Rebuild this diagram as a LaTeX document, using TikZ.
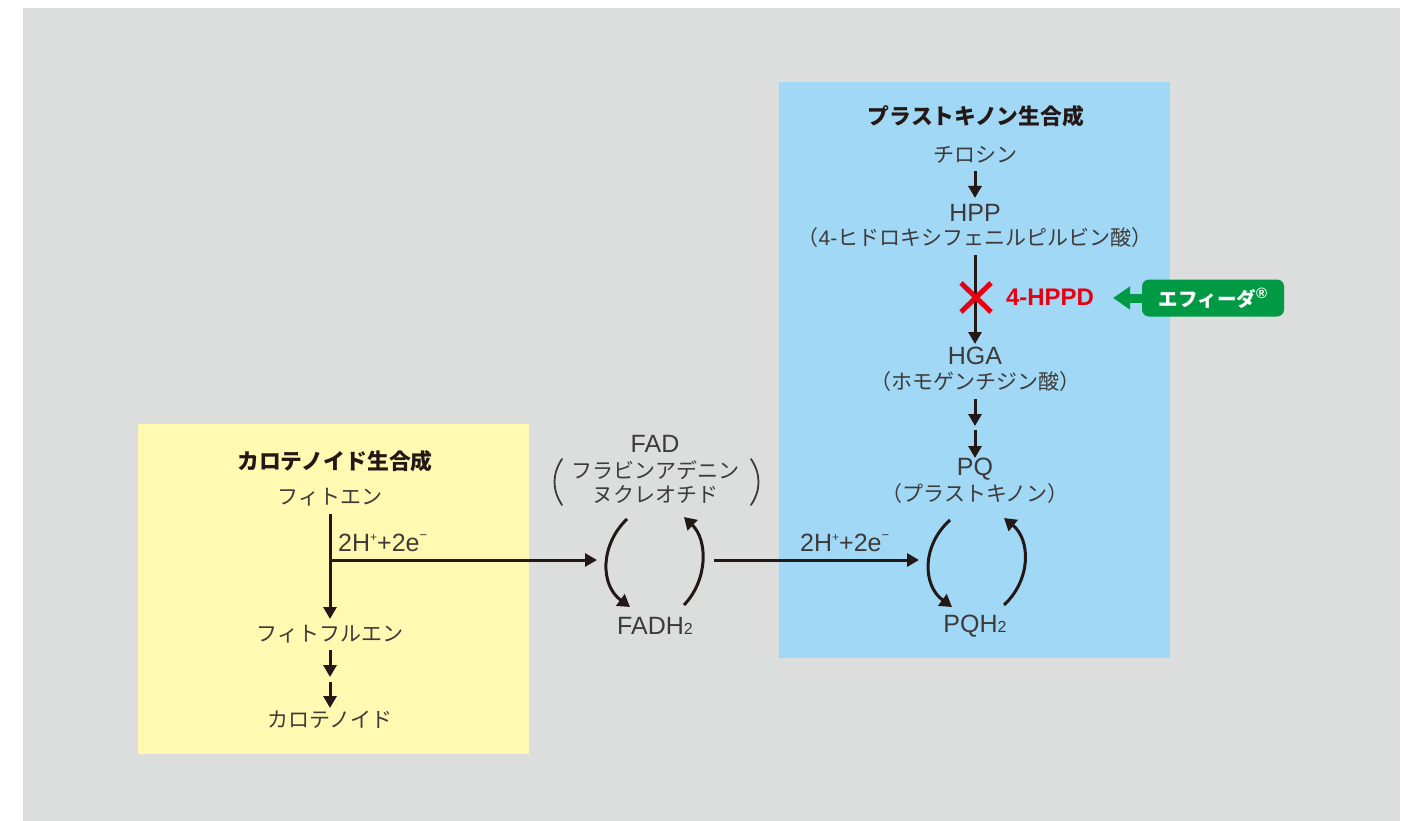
\documentclass[tikz,border=0pt]{standalone}
\usepackage{fontspec}
\setmainfont{Noto Sans CJK JP}
\newfontfamily\latf{Liberation Sans}
\usetikzlibrary{arrows.meta}
\definecolor{bg}{HTML}{DCDDDD}
\definecolor{yel}{HTML}{FFF9B1}
\definecolor{blu}{HTML}{A0D8F5}
\definecolor{tc}{HTML}{3E3A39}
\definecolor{ac}{HTML}{231815}
\definecolor{rd}{HTML}{E60012}
\definecolor{gr}{HTML}{009944}
\newcommand{\sbtwo}{{\fontsize{16}{16}\selectfont 2}}
\newcommand{\ions}{2H\raisebox{0.42em}{\fontsize{12}{12}\selectfont +}+2e\raisebox{0.48em}{\fontsize{13}{13}\selectfont −}}
\begin{document}
\begin{tikzpicture}[x=1pt,y=-1pt,
  txt/.style={font=\fontsize{21}{24}\selectfont, text=tc, inner sep=0pt},
  lat/.style={font=\latf\fontsize{25}{28}\selectfont, text=tc, inner sep=0pt},
  ttl/.style={font=\bfseries\fontsize{21.8}{24}\selectfont, text=ac, inner sep=0pt},
  arr/.style={line width=3pt, draw=ac, -{Triangle[width=13pt,length=12pt]}},
  cyc/.style={line width=3pt, draw=ac, -{Triangle[width=14pt,length=12pt]}},
  paren/.style={line width=1.8pt, draw=tc, line cap=round}]
\useasboundingbox (0,0) rectangle (1410,821);
\fill[bg] (23,8) rectangle (1400,821);
\fill[yel] (138,424) rectangle (529,754);
\fill[blu] (779,82) rectangle (1170,658);

% ---------- carotenoid ----------
\node[ttl] (ct) at (335,461) {カロテノイド生合成};
\node[txt] (phy) at (330,497) {フィトエン};
\node[txt] (phf) at (330,634) {フィトフルエン};
\node[txt] (car) at (330,720) {カロテノイド};
\coordinate (v1s) at (330,514);
\coordinate (v1e) at (330,619);
\coordinate (j1) at (330,560);
\coordinate (fadin) at (597,560);
\draw[arr] (v1s) -- (v1e);
\draw[arr] (j1) -- (fadin);
\node[lat, anchor=west] (ion1) at (338,543) {\ions};
\coordinate (c1a) at (330,650); \coordinate (c1b) at (330,677);
\coordinate (c2a) at (330,682); \coordinate (c2b) at (330,708);
\draw[arr] (c1a) -- (c1b);
\draw[arr] (c2a) -- (c2b);

% ---------- FAD ----------
\node[lat] (fad) at (655,444) {FAD};
\node[txt] (fad1) at (655,470) {フラビンアデニン};
\node[txt] (fad2) at (655,495) {ヌクレオチド};
\draw[paren] (562,459) .. controls (552,474) and (552,490) .. (562,505);
\draw[paren] (751,459) .. controls (761,474) and (761,490) .. (751,505);
\node[lat] (fadh) at (655,626) {FADH\sbtwo};
\coordinate (fl1) at (627,519); \coordinate (fl2) at (630,607);
\coordinate (fr1) at (684,605); \coordinate (fr2) at (684,517);
\draw[cyc] (fl1) .. controls (600,545) and (600,585) .. (fl2);
\draw[cyc] (fr1) .. controls (708,580) and (708,540) .. (fr2);
\coordinate (fadout) at (714,560);
\coordinate (pqin) at (919,560);
\draw[arr] (fadout) -- (pqin);
\node[lat, anchor=west] (ion2) at (800,543) {\ions};

% ---------- plastoquinone ----------
\node[ttl] (pt) at (976,116) {プラストキノン生合成};
\node[txt] (tyr) at (975,155) {チロシン};
\node[lat] (hpp) at (975,213) {HPP};
\node[txt] (hpp2) at (975,238) {（{\latf 4-}ヒドロキシフェニルピルビン酸）};
\node[lat] (hga) at (975,356) {HGA};
\node[txt] (hga2) at (975,382) {（ホモゲンチジン酸）};
\node[lat] (pq) at (975,469) {PQ};
\node[txt] (pq2) at (975,494) {（プラストキノン）};
\node[lat] (pqh) at (975,626) {PQH\sbtwo};
\coordinate (t1) at (975,171); \coordinate (t2) at (975,198);
\draw[arr] (t1) -- (t2);
\coordinate (h1) at (975,255); \coordinate (h2) at (975,344);
\draw[arr] (h1) -- (h2);
\coordinate (g1) at (975,399); \coordinate (g2) at (975,426);
\coordinate (g3) at (975,430); \coordinate (g4) at (975,458);
\draw[arr] (g1) -- (g2);
\draw[arr] (g3) -- (g4);
\coordinate (pl1) at (950,520); \coordinate (pl2) at (952,607);
\coordinate (pr1) at (1004,605); \coordinate (pr2) at (1004,518);
\draw[cyc] (pl1) .. controls (922,545) and (922,585) .. (pl2);
\draw[cyc] (pr1) .. controls (1031,580) and (1031,540) .. (pr2);

% inhibition
\coordinate (xa) at (961,283); \coordinate (xb) at (991,312);
\coordinate (xc) at (991,283); \coordinate (xd) at (961,312);
\draw[rd, line width=5pt] (xa) -- (xb);
\draw[rd, line width=5pt] (xc) -- (xd);
\node[font=\latf\bfseries\fontsize{24}{26}\selectfont, text=rd, inner sep=0pt] (hppd) at (1050,297) {4-HPPD};
\node[fill=gr, rounded corners=7pt, minimum width=142pt, minimum height=37pt, inner sep=0pt,
      text=white, font=\bfseries\fontsize{19.5}{22}\selectfont] (efd) at (1213,298) {エフィーダ\raisebox{0.4em}{\latf\fontsize{15}{15}\selectfont ®}};
\coordinate (ga) at (1145,298);
\coordinate (gb) at (1113,298);
\draw[gr, line width=9pt, -{Triangle[width=22pt,length=17pt]}] (ga) -- (gb);
\end{tikzpicture}
\end{document}
